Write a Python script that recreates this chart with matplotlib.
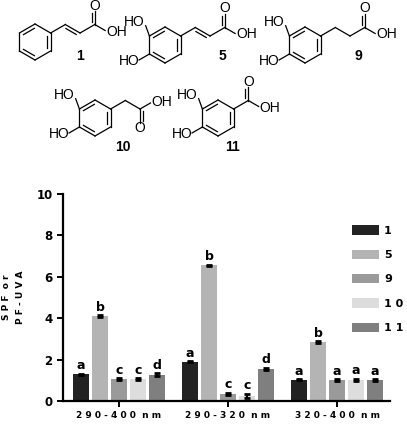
import numpy as np
import matplotlib.pyplot as plt
from matplotlib.patches import Patch

# ============================================================
# DATA
# ============================================================
groups    = ["2 9 0 - 4 0 0  n m", "2 9 0 - 3 2 0  n m", "3 2 0 - 4 0 0  n m"]
compounds = ["1", "5", "9", "1 0", "1 1"]
values = [
    [1.30, 1.90, 1.02],   # 1
    [4.10, 6.55, 2.85],   # 5
    [1.05, 0.35, 1.00],   # 9
    [1.05, 0.25, 1.02],   # 10
    [1.28, 1.55, 1.00],   # 11
]
errors = [
    [0.02, 0.02, 0.02],
    [0.04, 0.04, 0.04],
    [0.04, 0.04, 0.04],
    [0.04, 0.10, 0.04],
    [0.05, 0.05, 0.04],
]
letters = [
    ["a", "a", "a"],
    ["b", "b", "b"],
    ["c", "c", "a"],
    ["c", "c", "a"],
    ["d", "d", "a"],
]
colors = ["#222222", "#b4b4b4", "#9a9a9a", "#dddddd", "#7f7f7f"]

W, H = 407, 426
fig = plt.figure(figsize=(W / 100, H / 100), dpi=100)

# ============================================================
# STRUCTURES (pixel canvas, y up)
# ============================================================
sk = fig.add_axes([0, 0, 1, 1])
sk.set_xlim(0, W)
sk.set_ylim(0, H)
sk.axis("off")
LW = 0.9
BL = 17

def pt(x, ypix):
    return np.array([x, H - ypix], dtype=float)

def step(p, ang, L=BL):
    a = np.radians(ang)
    return p + L * np.array([np.cos(a), np.sin(a)])

def bond(p, q, double=False, side=1):
    sk.plot([p[0], q[0]], [p[1], q[1]], color="k", lw=LW)
    if double:
        d = q - p
        n = np.array([-d[1], d[0]]) / np.linalg.norm(d) * 3.2 * side
        a, b = p + n + 0.15 * d, q + n - 0.15 * d
        sk.plot([a[0], b[0]], [a[1], b[1]], color="k", lw=LW)

def ring(c, r=18):
    angs = [90, 30, -30, -90, -150, 150]
    v = [c + r * np.array([np.cos(np.radians(a)), np.sin(np.radians(a))]) for a in angs]
    for i in range(6):
        p, q = v[i], v[(i + 1) % 6]
        sk.plot([p[0], q[0]], [p[1], q[1]], color="k", lw=LW)
        if i % 2 == 1:
            m = (p + q) / 2
            pi = p + (c - m) * 0.22 + (q - p) * 0.15
            qi = q + (c - m) * 0.22 - (q - p) * 0.15
            sk.plot([pi[0], qi[0]], [pi[1], qi[1]], color="k", lw=LW)
    return v

def label(p, s, ha="center", va="center", fs=10, bold=False):
    sk.text(p[0], p[1], s, ha=ha, va=va, fontsize=fs,
            fontweight="bold" if bold else "normal", family="Liberation Sans")

def catechol(v):
    a = step(v[5], 110, 11)
    sk.plot([v[5][0], a[0]], [v[5][1], a[1]], color="k", lw=LW)
    label(a + [-1, 4], "HO", ha="right")
    b = step(v[4], -150, 12)
    sk.plot([v[4][0], b[0]], [v[4][1], b[1]], color="k", lw=LW)
    label(b + [1, -1], "HO", ha="right")

def acid_tail(p, n_chain, double_idx=None):
    angs = [30, -30, 30, -30]
    for i in range(n_chain):
        q = step(p, angs[i])
        bond(p, q, double=(i == double_idx), side=-1)
        p = q
    q = step(p, 30)
    bond(p, q)
    p = q
    o = step(p, 90, 14)
    bond(p, o, double=True)
    label(o + [0, 5], "O")
    oh = step(p, -30, 12)
    sk.plot([p[0], oh[0]], [p[1], oh[1]], color="k", lw=LW)
    label(oh + [1, -1], "OH", ha="left")

v = ring(pt(35, 42))
acid_tail(v[1], 2, double_idx=1)
label(pt(80, 56), "1", bold=True)

v = ring(pt(165, 45))
catechol(v)
acid_tail(v[1], 2, double_idx=1)
label(pt(222, 56), "5", bold=True)

v = ring(pt(305, 45))
catechol(v)
acid_tail(v[1], 2)
label(pt(358, 56), "9", bold=True)

v = ring(pt(95, 118))
catechol(v)
c1 = step(v[1], 30)
bond(v[1], c1)
c2 = step(c1, -30)
bond(c1, c2)
o = step(c2, -90, 14)
bond(c2, o, double=True)
label(o + [0, -5], "O")
oh = step(c2, 30, 12)
sk.plot([c2[0], oh[0]], [c2[1], oh[1]], color="k", lw=LW)
label(oh + [1, 1], "OH", ha="left")
label(pt(123, 147), "10", bold=True)

v = ring(pt(218, 118))
catechol(v)
c1 = step(v[1], 30)
bond(v[1], c1)
o = step(c1, 90, 14)
bond(c1, o, double=True)
label(o + [0, 5], "O")
oh = step(c1, -30, 12)
sk.plot([c1[0], oh[0]], [c1[1], oh[1]], color="k", lw=LW)
label(oh + [1, -1], "OH", ha="left")
label(pt(233, 147), "11", bold=True)

# ============================================================
# BAR CHART
# ============================================================
ax = fig.add_axes([63 / W, (H - 401) / H, (390 - 63) / W, (401 - 194) / H])
x = np.arange(len(groups))
off = 0.174
bw = 0.147
for i, (vals, errs, col) in enumerate(zip(values, errors, colors)):
    xs = x + (i - 2) * off
    ax.bar(xs, vals, width=bw, color=col, zorder=2)
    ax.errorbar(xs, vals, yerr=errs, fmt="none", ecolor="k",
                elinewidth=1.5, capsize=2.5, capthick=2, zorder=3)
    for xx, vv, ee, lt in zip(xs, vals, errs, letters[i]):
        ax.text(xx, vv + ee + 0.08, lt, ha="center", va="bottom",
                fontsize=9, fontweight="bold")

ax.set_xlim(-0.514, 2.486)
ax.set_ylim(0, 10)
ax.set_yticks([0, 2, 4, 6, 8, 10])
ax.set_xticks(x)
ax.set_xticklabels(groups, fontsize=6.5, fontweight="bold")
for t in ax.get_yticklabels():
    t.set_fontweight("bold")
    t.set_fontsize(8.5)
ax.spines["top"].set_visible(False)
ax.spines["right"].set_visible(False)
ax.spines["left"].set_linewidth(1.6)
ax.spines["bottom"].set_linewidth(1.6)
ax.tick_params(width=1.4, length=4)
ax.set_ylabel("S P F  o r\nP F - U V A", fontsize=6.5, fontweight="bold",
              linespacing=1.8, labelpad=8)

handles = [Patch(facecolor=c) for c in colors]
ax.legend(handles, compounds, loc="upper left", bbox_to_anchor=(0.87, 0.87),
          frameon=False, handlelength=2.4, handleheight=0.9,
          labelspacing=1.25, handletextpad=0.5, borderaxespad=0,
          prop={"weight": "bold", "size": 8})

fig.savefig("out.png", dpi=100)
